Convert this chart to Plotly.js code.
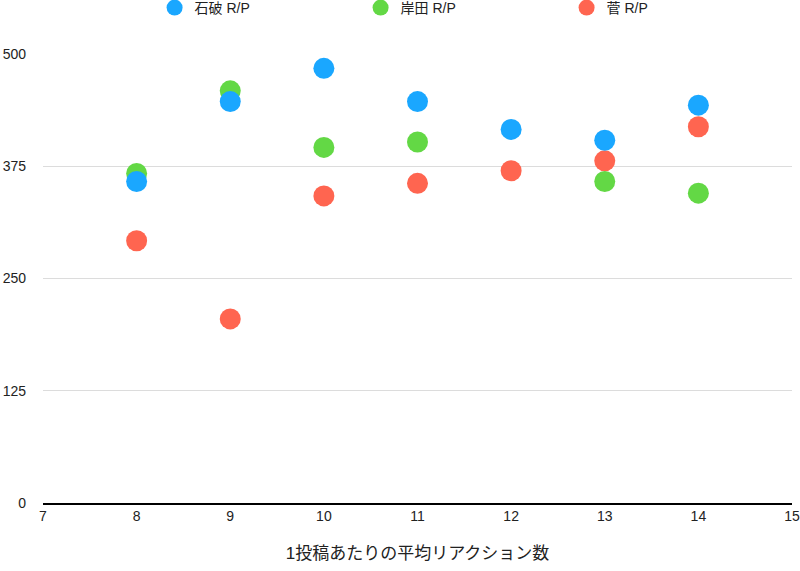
<!DOCTYPE html>
<html>
<head>
<meta charset="utf-8">
<script src="https://cdn.plot.ly/plotly-3.0.1.min.js"></script>
<style>html,body{margin:0;padding:0;background:#fff;}#chart{width:800px;height:571px;}</style>
</head>
<body>
<div id="chart"></div>
<script>
const xValues = [8, 9, 10, 11, 12, 13, 14];
const ishiba = [358, 447, 484, 447, 416, 404, 443];
const kishida = [367, 459, 396, 402, null, 358, 345];
const suga = [292, 205, 342, 356, 370, 381, 419];
const seriesNames = ['石破 R/P', '岸田 R/P', '菅 R/P'];
const yTicks = [0, 125, 250, 375, 500];
const xTitle = '1投稿あたりの平均リアクション数';

const FONT = 'Helvetica, Arial, "Liberation Sans", "Noto Sans CJK JP", sans-serif';
const colors = ['#1AA7FF', '#63D845', '#FF6550'];

function tr(y, i, rank) {
  return {
    type: 'scatter', mode: 'markers', x: xValues, y: y, name: seriesNames[i],
    legendrank: rank,
    marker: {size: 21, color: colors[i], line: {width: 0}},
    cliponaxis: false
  };
}
const data = [tr(suga, 2, 3), tr(kishida, 1, 2), tr(ishiba, 0, 1)];

const layout = {
  width: 800, height: 571,
  margin: {l: 43, r: 8, t: 54, b: 68},
  paper_bgcolor: '#fff', plot_bgcolor: '#fff',
  font: {family: FONT, size: 14, color: '#222'},
  showlegend: true,
  legend: {
    orientation: 'h', x: 0.149, xanchor: 'left',
    yref: 'container', y: 0.986, yanchor: 'middle',
    entrywidth: 161, entrywidthmode: 'pixels', traceorder: 'normal',
    font: {family: FONT, size: 14, color: '#222'}, bgcolor: 'rgba(0,0,0,0)'
  },
  xaxis: {
    range: [7, 15], dtick: 1, tick0: 7, showgrid: false, zeroline: false,
    showline: true, linecolor: '#000', linewidth: 1.5,
    ticks: '', tickfont: {size: 14, color: '#222'},
    title: {text: xTitle, font: {size: 17, color: '#222'}, standoff: 24}
  },
  yaxis: {
    range: [0, 500], tickvals: yTicks, ticktext: yTicks.map(String),
    showgrid: true, gridcolor: '#dcdcdc', gridwidth: 1.2, zeroline: false,
    showline: false, ticks: '', ticklabelstandoff: 16,
    tickfont: {size: 14, color: '#222'}
  }
};
Plotly.newPlot('chart', data, layout, {displayModeBar: false, staticPlot: true});
</script>
</body>
</html>
